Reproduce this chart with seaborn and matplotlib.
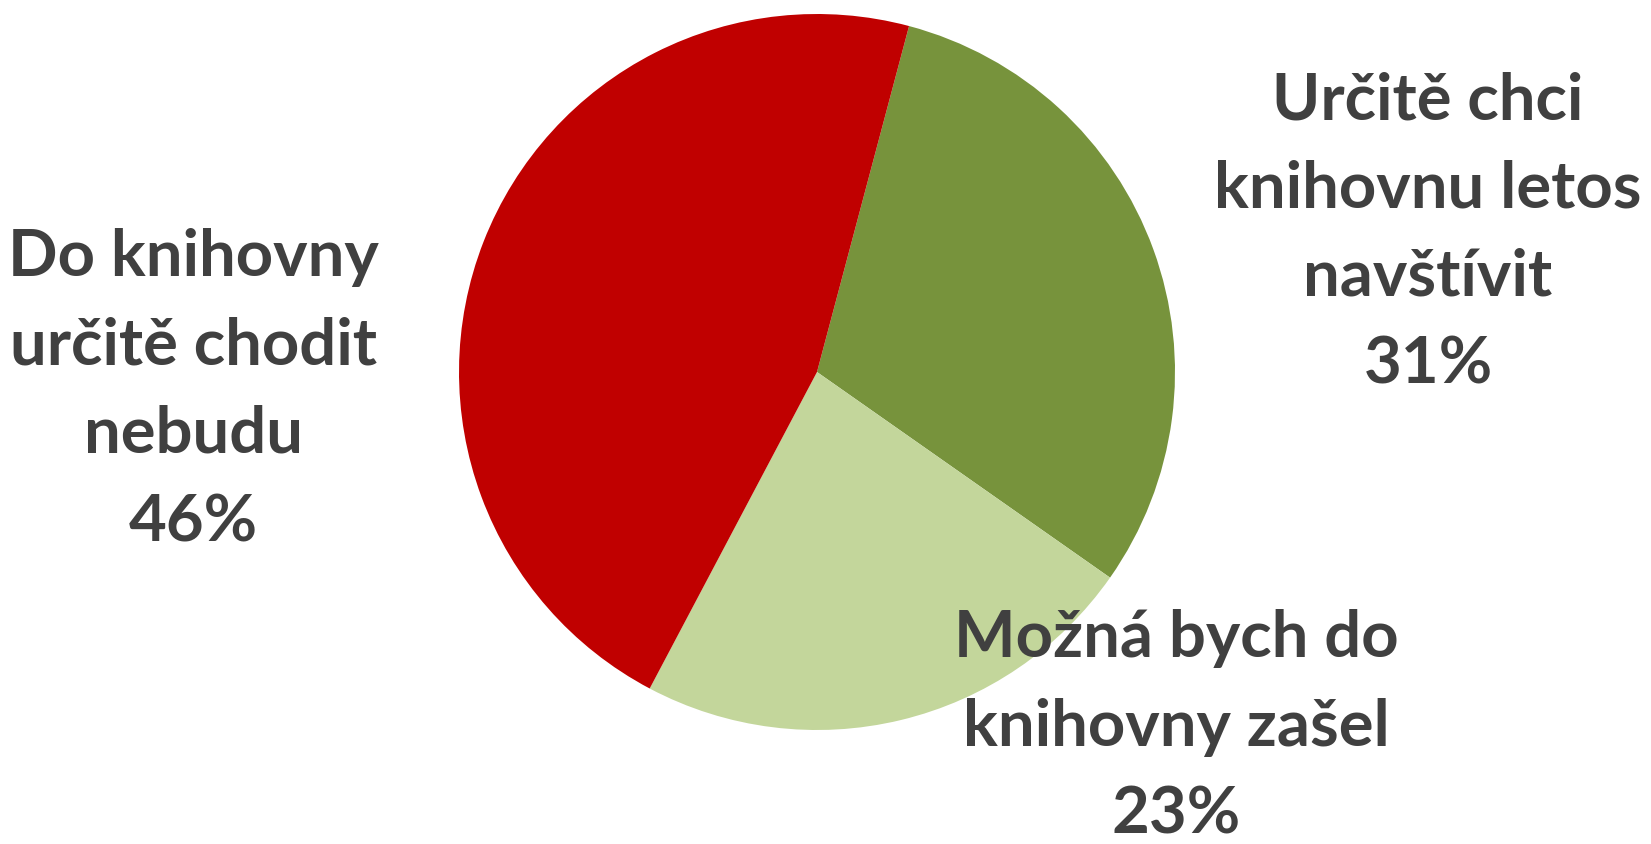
import matplotlib
matplotlib.use('Agg')
import matplotlib.pyplot as plt
import seaborn as sns

labels = ['Určitě chci\nknihovnu letos\nnavštívit', 'Možná bych do\nknihovny zašel', 'Do knihovny\nurčitě chodit\nnebudu']
shares = [30.6, 23.0, 46.4]
colors = ['#77933C', '#C3D69B', '#C00000']

sns.set_theme(style='white')
plt.rcParams['font.family'] = ['Lato', 'DejaVu Sans']

W, H = 1651, 845
fig = plt.figure(figsize=(W / 100, H / 100), dpi=100)
ax = fig.add_axes([459 / W, (H - 373 - 358) / H, 716 / W, 716 / H])
ax.pie(shares, colors=sns.color_palette(colors), startangle=75.1, counterclock=False,
       wedgeprops={'linewidth': 0})
ax.set_xlim(-1, 1)
ax.set_ylim(-1, 1)
ax.set_aspect('equal')
ax.axis('off')

# label anchors (pixel centre x, last baseline y)
pos = [(1428, 384), (1176, 834), (193, 541)]
for lab, v, (px, py) in zip(labels, shares, pos):
    fig.text(px / W, 1 - py / H, f'{lab}\n{v:.0f}%', ha='center', va='baseline',
             multialignment='center', fontsize=47, fontweight='bold',
             color='#404040', linespacing=1.61, zorder=5)

fig.savefig('out.png', dpi=100)
